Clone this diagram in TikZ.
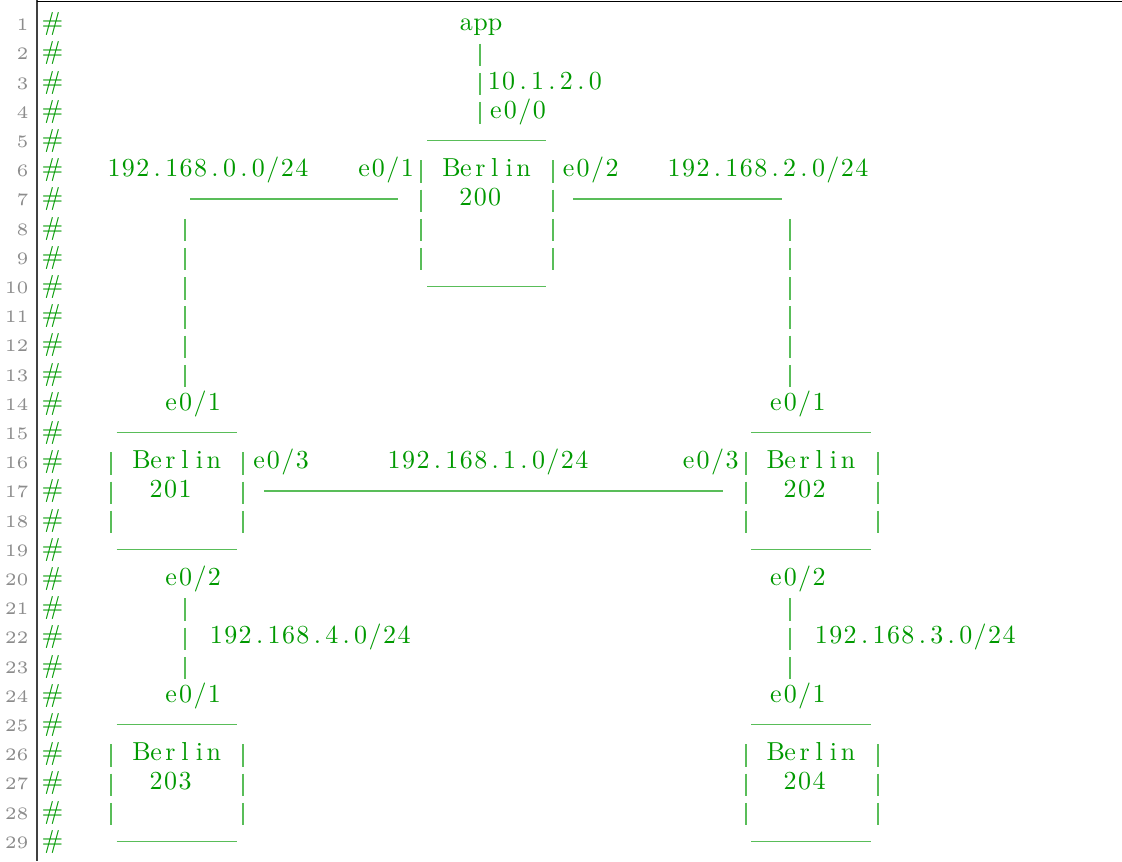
\documentclass[tikz,border=0pt]{standalone}
\usepackage{xcolor}
\usepackage{graphicx}
\usepackage{tikz}
\definecolor{cmtgreen}{rgb}{0,0.6,0}
\makeatletter
\newcommand\spaced[1]{\scalebox{1.3}{\@tfor\spchar:=#1\do{\makebox[5.554pt]{\spchar}}}}
\makeatother
\newcommand\bigger[1]{\scalebox{1.3}{#1}}

\begin{document}
\begin{tikzpicture}[x=0.5pt,y=-14.6pt]

\tikzset{txt/.style={
  anchor=base,
  inner sep=0pt,
  text=cmtgreen,
  font=\fontsize{10}{12}\selectfont
  },
  lineno/.style={anchor=base east, inner sep=0pt, text=black!45, font=\fontsize{5}{6}\selectfont},
  wire/.style={draw=cmtgreen!65, line width=0.8pt}}

\useasboundingbox (0,0) rectangle (1122,29.486);
\path[draw, black!75, line width=0.85pt] (37,0) -- (37,29.486);
\path[draw, black, line width=0.6pt] (37,0.058) -- (1122,0.058);

\begin{scope}[yshift=-0.75pt]
\foreach \n in {1,...,29}{
  \node[lineno] (ln\n) at (29,\n) {\scalebox{1.75}{\n}};
  \node[txt] (hash\n) at (52.5,\n) {\bigger{\#}};
}

% routers and nets
\node[txt] (app) at (480.7,1) {\spaced{app}};
\node[txt] (net10) at (544.8,3) {\spaced{10.1.2.0}};
\node[txt] (e00) at (517.6,4) {\spaced{e0/0}};
\node[txt] (net0) at (207.9,6) {\spaced{192.168.0.0/24}};
\node[txt] (r200e1) at (385.7,6) {\spaced{e0/1}};
\node[txt] (r200a) at (487.6,6) {\spaced{Berlin}};
\node[txt] (r200e2) at (590.4,6) {\spaced{e0/2}};
\node[txt] (net2) at (768,6) {\spaced{192.168.2.0/24}};
\node[txt] (r200b) at (480.3,7) {\spaced{200}};

\node[txt] (r201e1) at (192.8,14) {\spaced{e0/1}};
\node[txt] (r202e1) at (797.5,14) {\spaced{e0/1}};
\node[txt] (r201a) at (177.8,16) {\spaced{Berlin}};
\node[txt] (r201e3) at (280.7,16) {\spaced{e0/3}};
\node[txt] (net1) at (488,16) {\spaced{192.168.1.0/24}};
\node[txt] (r202e3) at (710.4,16) {\spaced{e0/3}};
\node[txt] (r202a) at (811.9,16) {\spaced{Berlin}};
\node[txt] (r201b) at (170.6,17) {\spaced{201}};
\node[txt] (r202b) at (804.6,17) {\spaced{202}};

\node[txt] (r201e2) at (192.8,20) {\spaced{e0/2}};
\node[txt] (r202e2) at (797.5,20) {\spaced{e0/2}};
\node[txt] (net4) at (310.2,22) {\spaced{192.168.4.0/24}};
\node[txt] (net3) at (915.2,22) {\spaced{192.168.3.0/24}};
\node[txt] (r203e1) at (192.8,24) {\spaced{e0/1}};
\node[txt] (r204e1) at (797.5,24) {\spaced{e0/1}};
\node[txt] (r203a) at (177.8,26) {\spaced{Berlin}};
\node[txt] (r204a) at (811.9,26) {\spaced{Berlin}};
\node[txt] (r203b) at (170.6,27) {\spaced{203}};
\node[txt] (r204b) at (804.6,27) {\spaced{204}};

% the | signs
\foreach \x/\r in {480/2,480/3,480/4,421/6,553/6,421/7,553/7,
  185/8,421/8,553/8,790/8,185/9,421/9,553/9,790/9,
  185/10,790/10,185/11,790/11,185/12,790/12,185/13,790/13,
  111/16,243/16,746/16,878/16,111/17,243/17,746/17,878/17,111/18,243/18,746/18,878/18,
  185/21,790/21,185/22,790/22,185/23,790/23,
  111/26,243/26,746/26,878/26,111/27,243/27,746/27,878/27,111/28,243/28,746/28,878/28}
  \path[wire] (\x,{\r-0.56}) -- (\x,{\r+0.21});

% the ____ signs
\foreach \a/\b/\r in {427/546/5,190/398.3/7,573.3/782.3/7,427/546/10,
  116.7/236.7/15,751/870.7/15,264.3/723.3/17,116.7/236.7/19,751/870.7/19,
  116.7/236.7/25,751/870.7/25,116.7/236.7/29,751/870.7/29}
  \path[wire] (\a,{\r-0.24}) -- (\b,{\r-0.24});
\end{scope}
\end{tikzpicture}
\end{document}
